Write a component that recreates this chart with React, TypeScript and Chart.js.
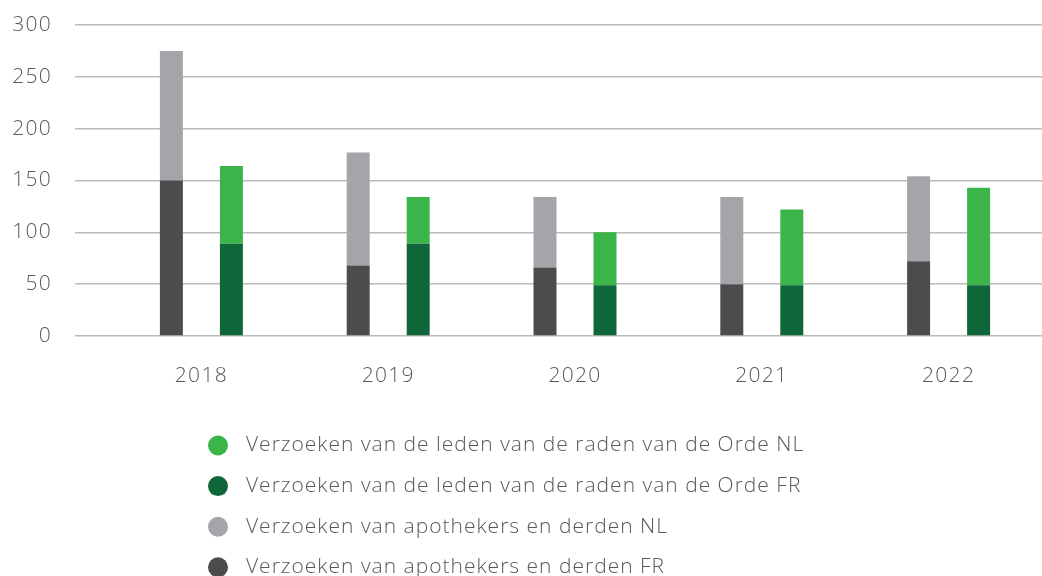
import React, { useEffect, useRef } from "react";
import { Chart, registerables } from "chart.js";

Chart.register(...registerables);

const years = ["2018", "2019", "2020", "2021", "2022"];
const apothekersFR = [150, 68, 66, 50, 72];
const apothekersNL = [125, 109, 68, 84, 82];
const ordeFR = [89, 89, 49, 49, 49];
const ordeNL = [75, 45, 51, 73, 94];
const yTicks = [0, 50, 100, 150, 200, 250, 300];

const labelApoFR = "Verzoeken van apothekers en derden FR";
const labelApoNL = "Verzoeken van apothekers en derden NL";
const labelOrdeFR = "Verzoeken van de leden van de raden van de Orde FR";
const labelOrdeNL = "Verzoeken van de leden van de raden van de Orde NL";

const FONT = "'Open Sans', sans-serif";
const TEXT = "#58595b";

const spacingPlugin = {
  id: "letterSpacing",
  beforeUpdate(chart: any) {
    (chart.ctx as any).letterSpacing = "1.3px";
  },
  beforeDraw(chart: any) {
    (chart.ctx as any).letterSpacing = "1.3px";
  },
};

const legendPlugin = {
  id: "verticalLegend",
  afterDraw(chart: any) {
    const ctx = chart.ctx as CanvasRenderingContext2D;
    const ds = [...chart.data.datasets].reverse();
    ctx.save();
    (ctx as any).letterSpacing = "1px";
    ctx.font = `300 21px ${FONT}`;
    ctx.textBaseline = "middle";
    ctx.textAlign = "left";
    ds.forEach((d: any, i: number) => {
      const y = 445.5 + i * 40.6;
      ctx.beginPath();
      ctx.fillStyle = d.backgroundColor;
      ctx.arc(218, y, 10, 0, Math.PI * 2);
      ctx.fill();
      ctx.fillStyle = TEXT;
      ctx.fillText(d.label, 246, y);
    });
    ctx.restore();
  },
};

export default function App() {
  const ref = useRef<HTMLCanvasElement | null>(null);
  useEffect(() => {
    if (!ref.current) return;
    const chart = new Chart(ref.current, {
      type: "bar",
      data: {
        labels: years,
        datasets: [
          { label: labelApoFR, data: apothekersFR, backgroundColor: "#4b4c4e", stack: "apo" },
          { label: labelApoNL, data: apothekersNL, backgroundColor: "#a4a5a9", stack: "apo" },
          { label: labelOrdeFR, data: ordeFR, backgroundColor: "#0f6638", stack: "orde" },
          { label: labelOrdeNL, data: ordeNL, backgroundColor: "#3bb54a", stack: "orde" },
        ],
      },
      options: {
        responsive: false,
        animation: false,
        events: [],
        layout: { padding: { top: 25, right: 0, left: 0, bottom: 0 } },
        datasets: { bar: { categoryPercentage: 0.6424, barPercentage: 0.383, borderWidth: 0 } },
        plugins: { legend: { display: false }, tooltip: { enabled: false } },
        scales: {
          x: {
            stacked: true,
            grid: { display: false },
            border: { display: false },
            ticks: { color: TEXT, font: { family: FONT, size: 21, weight: "300" as any }, padding: 19 },
            afterFit(scale: any) {
              scale.height = 240;
            },
          },
          y: {
            stacked: true,
            min: 0,
            max: 300,
            afterBuildTicks(scale: any) {
              scale.ticks = yTicks.map((v) => ({ value: v }));
            },
            grid: { color: "#bababc", lineWidth: 1.5, tickLength: 33, drawTicks: true },
            border: { display: false },
            ticks: { color: TEXT, font: { family: FONT, size: 21, weight: "300" as any }, padding: 23 },
            afterFit(scale: any) {
              scale.width = 108;
              scale.paddingTop = 10;
              scale.paddingBottom = 10;
            },
          },
        },
      },
      plugins: [spacingPlugin, legendPlugin],
    });
    return () => chart.destroy();
  }, []);
  return (
    <div style={{ position: "absolute", left: 0, top: 0, width: 1042, height: 576 }}>
      <canvas ref={ref} width={1042} height={576} style={{ display: "block" }} />
    </div>
  );
}
